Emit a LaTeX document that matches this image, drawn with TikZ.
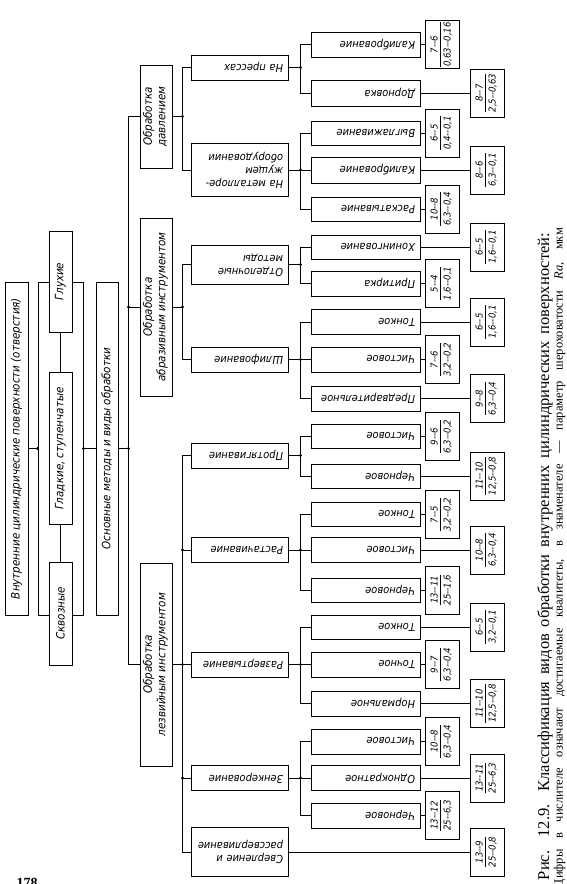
\documentclass[tikz,border=0pt]{standalone}
\usepackage{fontspec}
\setmainfont{Liberation Serif}
\newfontfamily\gost{DejaVu Sans Condensed Oblique}
\setlength{\arrayrulewidth}{0.7pt}
\newcommand{\stackC}[1]{\begin{tabular}{@{}c@{}}#1\end{tabular}}
\newcommand{\stackL}[1]{\begin{tabular}{@{}l@{}}#1\end{tabular}}
\newcommand{\frc}[2]{\rotatebox{90}{\begin{tabular}{@{}c@{}}#1\\[-1pt]\hline\rule{0pt}{10pt}#2\end{tabular}}}
% parent -> bus -> children
\newcommand{\branch}[3][12]{%
  \draw[ln] (#2.east) -- ++(#1,0) coordinate (#2-j);
  \foreach \c in {#3} {\draw[ln] (#2-j) |- (\c.west);}
  \fill (#2-j) circle (1.6pt);}

\begin{document}
\begin{tikzpicture}[x=1pt,y=-1pt,
  ln/.style={line width=0.9pt},
  upbox/.style={draw,line width=0.9pt,fill=white,inner sep=0pt,
                font=\gost\fontsize{11.5}{13.5}\selectfont},
  midbox/.style={draw,line width=0.9pt,fill=white,inner xsep=5pt,inner ysep=0pt,
                 minimum width=97pt,text width=87pt,align=right,
                 font=\gost\fontsize{11}{13}\selectfont},
  leafbox/.style={midbox,minimum width=109pt,text width=99pt},
  fracbox/.style={draw,line width=0.9pt,inner sep=0pt,minimum width=34pt,
                  minimum height=48pt,font=\gost\fontsize{9.5}{11}\selectfont}
]
\useasboundingbox (0,0) rectangle (566,884);

% surfaces
\node[upbox,minimum width=23pt,minimum height=333pt] (root) at (16.5,448.5)
  {\rotatebox{90}{Внутренние цилиндрические поверхности (отверстия)}};
\node[draw,ln,minimum width=45pt,minimum height=333pt] (frame) at (60.5,448.5) {};
\node[upbox,minimum width=23pt,minimum height=101pt] (glukh) at (60.5,281.5) {\rotatebox{90}{Глухие}};
\node[upbox,minimum width=23pt,minimum height=152pt] (glad) at (60.5,448.5) {\rotatebox{90}{Гладкие, ступенчатые}};
\node[upbox,minimum width=23pt,minimum height=103pt] (skvoz) at (60.5,613.5) {\rotatebox{90}{Сквозные}};
\draw[ln] (glukh.south) -- (glad.north) (glad.south) -- (skvoz.north);
\node[upbox,minimum width=22pt,minimum height=333pt] (osn) at (107,448.5)
  {\rotatebox{90}{Основные методы и виды обработки}};
\draw[ln] (root.east) -- (frame.west);
\draw[ln] (frame.east) -- (osn.west);
\fill (frame.west) circle (1.6pt);
\fill (frame.east) circle (1.6pt);

% groups
\node[upbox,minimum width=32pt,minimum height=103pt] (gDav) at (156,116.5)
  {\rotatebox{90}{\stackC{Обработка\\давлением}}};
\node[upbox,minimum width=32pt,minimum height=178pt] (gAbr) at (156,307)
  {\rotatebox{90}{\stackC{Обработка\\абразивным инструментом}}};
\node[upbox,minimum width=32pt,minimum height=203pt] (gLez) at (156,664.5)
  {\rotatebox{90}{\stackC{Обработка\\лезвийным инструментом}}};

% methods
\node[midbox,minimum height=25pt] (pres)  at (239.5,67.5)  {\rotatebox{180}{На прессах}};
\node[midbox,minimum height=53pt] (metr)  at (239.5,170)   {\rotatebox{180}{\stackL{На металлоре-\\жущем\\оборудовании}}};
\node[midbox,minimum height=39pt] (otd)   at (239.5,264.5) {\rotatebox{180}{\stackL{Отделочные\\методы}}};
\node[midbox,minimum height=25pt] (shl)   at (239.5,359.5) {\rotatebox{180}{Шлифование}};
\node[midbox,minimum height=25pt] (prot)  at (239.5,455.5) {\rotatebox{180}{Протягивание}};
\node[midbox,minimum height=25pt] (rast)  at (239.5,550)   {\rotatebox{180}{Растачивание}};
\node[midbox,minimum height=25pt] (razv)  at (239.5,664.5) {\rotatebox{180}{Развертывание}};
\node[midbox,minimum height=25pt] (zenk)  at (239.5,778)   {\rotatebox{180}{Зенкерование}};
\node[midbox,minimum height=49pt] (sverl) at (239.5,852)   {\rotatebox{180}{\stackL{Сверление и\\рассверливание}}};

% kinds
\node[leafbox,minimum height=25pt] (kal1)  at (365.5,44.5)  {\rotatebox{180}{Калибрование}};
\node[leafbox,minimum height=26pt] (dorn)  at (365.5,93)    {\rotatebox{180}{Дорновка}};
\node[leafbox,minimum height=24pt] (vygl)  at (365.5,133)   {\rotatebox{180}{Выглаживание}};
\node[leafbox,minimum height=26pt] (kal2)  at (365.5,170)   {\rotatebox{180}{Калибрование}};
\node[leafbox,minimum height=24pt] (rask)  at (365.5,209)   {\rotatebox{180}{Раскатывание}};
\node[leafbox,minimum height=24pt] (hon)   at (365.5,247)   {\rotatebox{180}{Хонингование}};
\node[leafbox,minimum height=25pt] (prit)  at (365.5,283.5) {\rotatebox{180}{Притирка}};
\node[leafbox,minimum height=25pt] (shT)   at (365.5,322)   {\rotatebox{180}{Тонкое}};
\node[leafbox,minimum height=25pt] (shCh)  at (365.5,359.5) {\rotatebox{180}{Чистовое}};
\node[leafbox,minimum height=25pt] (shP)   at (365.5,398.5) {\rotatebox{180}{Предварительное}};
\node[leafbox,minimum height=24pt] (prCh)  at (365.5,436.5) {\rotatebox{180}{Чистовое}};
\node[leafbox,minimum height=24pt] (prChr) at (365.5,476)   {\rotatebox{180}{Черновое}};
\node[leafbox,minimum height=24pt] (raT)   at (365.5,514.5) {\rotatebox{180}{Тонкое}};
\node[leafbox,minimum height=25pt] (raCh)  at (365.5,550)   {\rotatebox{180}{Чистовое}};
\node[leafbox,minimum height=24pt] (raChr) at (365.5,590)   {\rotatebox{180}{Черновое}};
\node[leafbox,minimum height=24pt] (rzT)   at (365.5,627)   {\rotatebox{180}{Тонкое}};
\node[leafbox,minimum height=25pt] (rzTo)  at (365.5,664.5) {\rotatebox{180}{Точное}};
\node[leafbox,minimum height=25pt] (rzN)   at (365.5,703.5) {\rotatebox{180}{Нормальное}};
\node[leafbox,minimum height=25pt] (zCh)   at (365.5,741.5) {\rotatebox{180}{Чистовое}};
\node[leafbox,minimum height=25pt] (zO)    at (365.5,778)   {\rotatebox{180}{Однократное}};
\node[leafbox,minimum height=25pt] (zChr)  at (365.5,815.5) {\rotatebox{180}{Черновое}};

% quality grade / roughness
\node[fracbox] (f-kal1)  at (442,44.5)   {\frc{7--6}{0,63--0,16}};
\node[fracbox] (f-dorn)  at (487,93)     {\frc{8--7}{2,5--0,63}};
\node[fracbox] (f-vygl)  at (442,133)    {\frc{6--5}{0,4--0,1}};
\node[fracbox] (f-kal2)  at (487,170)    {\frc{8--6}{6,3--0,1}};
\node[fracbox] (f-rask)  at (442,209)    {\frc{10--8}{6,3--0,4}};
\node[fracbox] (f-hon)   at (487,247)    {\frc{6--5}{1,6--0,1}};
\node[fracbox] (f-prit)  at (442,283.5)  {\frc{5--4}{1,6--0,1}};
\node[fracbox] (f-shT)   at (487,322)    {\frc{6--5}{1,6--0,1}};
\node[fracbox] (f-shCh)  at (442,359.5)  {\frc{7--6}{3,2--0,2}};
\node[fracbox] (f-shP)   at (487,398.5)  {\frc{9--8}{6,3--0,4}};
\node[fracbox] (f-prCh)  at (442,436.5)  {\frc{9--6}{6,3--0,2}};
\node[fracbox] (f-prChr) at (487,476)    {\frc{11--10}{12,5--0,8}};
\node[fracbox] (f-raT)   at (442,514.5)  {\frc{7--5}{3,2--0,2}};
\node[fracbox] (f-raCh)  at (487,550)    {\frc{10--8}{6,3--0,4}};
\node[fracbox] (f-raChr) at (442,590)    {\frc{13--11}{25--1,6}};
\node[fracbox] (f-rzT)   at (487,627)    {\frc{6--5}{3,2--0,1}};
\node[fracbox] (f-rzTo)  at (442,664.5)  {\frc{9--7}{6,3--0,4}};
\node[fracbox] (f-rzN)   at (487,703.5)  {\frc{11--10}{12,5--0,8}};
\node[fracbox] (f-zCh)   at (442,741.5)  {\frc{10--8}{6,3--0,4}};
\node[fracbox] (f-zO)    at (487,778)    {\frc{13--11}{25--6,3}};
\node[fracbox] (f-zChr)  at (442,815.5)  {\frc{13--12}{25--6,3}};
\node[fracbox] (f-sverl) at (487,852)    {\frc{13--9}{25--0,8}};

% connectors
\branch[10]{osn}{gDav,gAbr,gLez}
\fill (osn-j |- gAbr.west) circle (1.6pt);
\branch[10]{gDav}{pres,metr}
\branch[10]{gAbr}{otd,shl}
\branch[10]{gLez}{prot,rast,razv,zenk,sverl}
\fill (gLez-j |- rast.west) circle (1.6pt);
\fill (gLez-j |- zenk.west) circle (1.6pt);
\branch{pres}{kal1,dorn}
\branch{metr}{vygl,kal2,rask}
\branch{otd}{hon,prit}
\branch{shl}{shT,shCh,shP}
\branch{prot}{prCh,prChr}
\branch{rast}{raT,raCh,raChr}
\branch{razv}{rzT,rzTo,rzN}
\branch{zenk}{zCh,zO,zChr}
\foreach \k in {kal1,dorn,vygl,kal2,rask,hon,prit,shT,shCh,shP,prCh,prChr,
                raT,raCh,raChr,rzT,rzTo,rzN,zCh,zO,zChr,sverl}
  \draw[ln] (\k) -- (f-\k);

% caption
\node[rotate=90,font=\fontsize{16.5}{18}\selectfont] (cap1) at (545,556.5)
  {\makebox[647pt][s]{Рис. 12.9. Классификация видов обработки внутренних цилиндрических поверхностей:}};
\node[rotate=90,font=\fontsize{12.5}{14}\selectfont] (cap2) at (559.5,558)
  {\makebox[660pt][s]{Цифры в числителе означают достигаемые квалитеты, в знаменателе --- параметр шероховатости \textit{Ra}, мкм}};
\node[anchor=north,inner sep=0pt,font=\bfseries\fontsize{14}{16}\selectfont] (page) at (27,878) {178};
\end{tikzpicture}
\end{document}
